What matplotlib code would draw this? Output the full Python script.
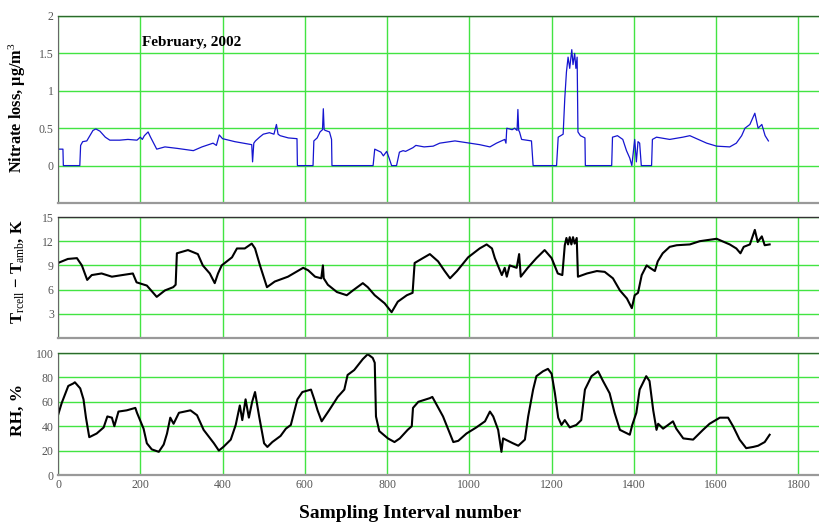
import matplotlib
matplotlib.use("Agg")
import matplotlib.pyplot as plt

# ---------------- data ----------------
nitrate_x = [0, 12, 13, 53, 55, 60, 70, 85, 92, 102, 115, 126, 150, 170, 192, 200, 205, 210, 219, 225,
             240, 260, 290, 329, 350, 377, 385, 392, 400, 430, 471, 473, 476, 480, 490, 499, 514, 525, 531, 535,
             540, 560, 581, 582, 620, 622, 630, 637, 643, 645, 647, 650, 660, 665, 666, 766, 770, 785, 791, 799,
             805, 811, 823, 825, 830, 839, 845, 863, 870, 890, 912, 928, 965, 1001, 1025, 1050, 1066, 1086, 1089, 1091,
             1104, 1110, 1116, 1118, 1120, 1122, 1127, 1151, 1155, 1212, 1216, 1228, 1232, 1236, 1240, 1244, 1249, 1252, 1256, 1259,
             1262, 1264, 1270, 1281, 1282, 1346, 1348, 1360, 1373, 1382, 1390, 1395, 1402, 1406, 1410, 1414, 1418, 1443, 1445, 1455,
             1487, 1519, 1536, 1577, 1601, 1633, 1649, 1662, 1670, 1682, 1694, 1702, 1711, 1719, 1727]
nitrate_y = [0.22, 0.22, 0, 0, 0.27, 0.32, 0.33, 0.47, 0.49, 0.46, 0.38, 0.34, 0.34, 0.35, 0.34, 0.38, 0.35, 0.40, 0.45, 0.38,
             0.22, 0.25, 0.23, 0.20, 0.25, 0.30, 0.27, 0.41, 0.36, 0.32, 0.28, 0.05, 0.30, 0.33, 0.38, 0.42, 0.44, 0.42, 0.55, 0.42,
             0.40, 0.37, 0.36, 0, 0, 0.33, 0.37, 0.45, 0.48, 0.76, 0.48, 0.47, 0.45, 0.35, 0, 0, 0.22, 0.18, 0.13, 0.19,
             0.10, 0, 0, 0.05, 0.18, 0.20, 0.19, 0.24, 0.27, 0.25, 0.26, 0.30, 0.33, 0.30, 0.28, 0.25, 0.30, 0.35, 0.30, 0.50,
             0.48, 0.50, 0.47, 0.75, 0.47, 0.45, 0.35, 0.33, 0, 0, 0.38, 0.42, 0.90, 1.25, 1.45, 1.30, 1.55, 1.35, 1.50, 1.30,
             1.45, 0.45, 0.40, 0.37, 0, 0, 0.38, 0.40, 0.35, 0.20, 0.10, 0, 0.35, 0.05, 0.32, 0.30, 0, 0, 0.35, 0.38,
             0.35, 0.38, 0.40, 0.30, 0.26, 0.25, 0.30, 0.40, 0.50, 0.55, 0.70, 0.50, 0.55, 0.40, 0.33]

dtemp_x = [0, 24, 46, 58, 71, 82, 106, 131, 156, 182, 191, 216, 240, 260, 280, 286, 289, 316, 340, 352,
           369, 381, 389, 398, 423, 435, 454, 471, 479, 491, 508, 527, 559, 596, 608, 625, 640, 644, 646, 656,
           678, 702, 717, 741, 753, 770, 794, 811, 826, 848, 862, 867, 887, 904, 924, 940, 953, 970, 997, 1025,
           1042, 1055, 1062, 1079, 1086, 1091, 1098, 1115, 1121, 1125, 1142, 1163, 1183, 1200, 1215, 1226, 1232, 1236, 1240, 1244,
           1248, 1252, 1256, 1261, 1264, 1286, 1310, 1329, 1349, 1366, 1383, 1395, 1402, 1410, 1419, 1431, 1439, 1451, 1458, 1470,
           1487, 1504, 1536, 1560, 1601, 1633, 1649, 1659, 1667, 1682, 1694, 1701, 1711, 1718, 1730]
dtemp_y = [9.3, 9.8, 9.9, 9.0, 7.2, 7.8, 8.0, 7.6, 7.8, 8.0, 6.9, 6.5, 5.1, 5.9, 6.3, 6.6, 10.5, 10.9, 10.4, 9.0,
           8.0, 6.8, 8.0, 9.0, 10.0, 11.1, 11.1, 11.7, 11.1, 9.0, 6.3, 7.0, 7.6, 8.7, 8.4, 7.6, 7.4, 9.0, 7.4, 6.6,
           5.7, 5.3, 5.9, 6.8, 6.3, 5.3, 4.3, 3.2, 4.5, 5.3, 5.6, 9.3, 9.9, 10.4, 9.5, 8.3, 7.4, 8.3, 10.0, 11.1,
           11.6, 11.1, 9.9, 7.8, 8.7, 7.6, 9.0, 8.7, 10.4, 7.6, 8.7, 9.9, 10.9, 9.9, 8.0, 7.8, 11.5, 12.4, 11.6, 12.5,
           11.6, 12.5, 11.7, 12.4, 7.6, 8.0, 8.3, 8.2, 7.4, 5.9, 4.9, 3.7, 5.3, 5.6, 7.8, 9.0, 8.7, 8.3, 9.5, 10.5,
           11.3, 11.5, 11.6, 12.0, 12.3, 11.6, 11.1, 10.5, 11.3, 11.6, 13.4, 11.9, 12.6, 11.5, 11.6]

rh_x = [0, 9, 17, 25, 37, 41, 54, 62, 68, 76, 94, 111, 120, 131, 137, 147, 167, 188, 192, 208,
        216, 228, 245, 257, 265, 273, 281, 294, 322, 338, 354, 379, 391, 402, 420, 432, 442, 448, 456, 464,
        472, 479, 489, 501, 509, 521, 541, 554, 566, 582, 594, 615, 623, 631, 641, 659, 680, 696, 704, 720,
        741, 753, 765, 770, 773, 781, 802, 818, 831, 850, 860, 863, 876, 904, 910, 936, 961, 973, 993, 1017,
        1038, 1050, 1058, 1070, 1078, 1082, 1106, 1119, 1135, 1143, 1155, 1163, 1179, 1191, 1200, 1208, 1216, 1224, 1232, 1244,
        1260, 1272, 1281, 1297, 1313, 1325, 1341, 1353, 1366, 1390, 1396, 1406, 1414, 1430, 1438, 1447, 1455, 1459, 1471, 1495,
        1503, 1520, 1544, 1568, 1584, 1609, 1629, 1641, 1657, 1673, 1690, 1702, 1718, 1730]
rh_y = [49, 59, 66, 73, 75, 76, 71, 62, 47, 31, 34, 39, 48, 47, 40, 52, 53, 55, 51, 38,
        26, 21, 19, 25, 34, 47, 42, 51, 53, 49, 37, 26, 20, 23, 29, 41, 57, 45, 62, 47,
        60, 68, 48, 26, 23, 27, 32, 38, 41, 62, 68, 70, 62, 53, 44, 53, 64, 70, 82, 86,
        95, 99, 96, 92, 48, 36, 30, 27, 30, 37, 40, 55, 60, 63, 64, 48, 27, 28, 34, 39,
        44, 52, 48, 37, 19, 30, 26, 24, 29, 48, 70, 81, 85, 87, 83, 67, 47, 41, 45, 39,
        41, 45, 70, 81, 85, 77, 67, 51, 37, 33, 41, 51, 70, 81, 77, 53, 37, 42, 38, 44,
        38, 30, 29, 37, 42, 47, 47, 40, 29, 22, 23, 24, 27, 33]

x_ticks = [0, 200, 400, 600, 800, 1000, 1200, 1400, 1600, 1800]
nitrate_ticks = [0, 0.5, 1, 1.5, 2]
nitrate_ticklabels = ["0", "0.5", "1", "1.5", "2"]
dtemp_ticks = [3, 6, 9, 12, 15]
rh_ticks = [0, 20, 40, 60, 80, 100]

# ---------------- style ----------------
plt.rcParams["font.family"] = ["Liberation Serif", "DejaVu Serif"]
plt.rcParams["mathtext.fontset"] = "custom"
plt.rcParams["mathtext.rm"] = "Liberation Serif"
plt.rcParams["mathtext.bf"] = "Liberation Serif:bold"
plt.rcParams["mathtext.it"] = "Liberation Serif:italic"

GRID = "#42e442"
TICKC = "#555555"

fig = plt.figure(figsize=(8.19, 5.26), dpi=100)
L, W = 58 / 819, 761 / 819
ax1 = fig.add_axes([L, (526 - 203) / 526, W, 187 / 526])
ax2 = fig.add_axes([L, (526 - 338) / 526, W, 121 / 526])
ax3 = fig.add_axes([L, (526 - 475) / 526, W, 122 / 526])

def style(ax, show_x):
    ax.set_xlim(0, 1850)
    ax.set_xticks(x_ticks)
    ax.grid(True, color=GRID, linewidth=1.0)
    ax.set_axisbelow(True)
    ax.tick_params(length=0, labelsize=8.5, labelcolor=TICKC, pad=3)
    if not show_x:
        ax.tick_params(labelbottom=False)
    ax.spines["right"].set_visible(False)
    ax.spines["left"].set_color("#666666")
    ax.spines["bottom"].set_color("#999999")
    ax.spines["bottom"].set_linewidth(1.6)
    ax.spines["top"].set_color("#333333")
    ax.spines["top"].set_linewidth(1.0)

ax1.plot(nitrate_x, nitrate_y, color="#1515d0", linewidth=0.9)
ax1.set_ylim(-0.5, 2)
ax1.set_yticks(nitrate_ticks)
ax1.set_yticklabels(nitrate_ticklabels)
style(ax1, False)
ax1.spines["top"].set_color("#2b6a2b")
ax1.text(204, 1.64, "February, 2002", fontsize=11, fontweight="bold", va="center", ha="left")

ax2.plot(dtemp_x, dtemp_y, color="black", linewidth=1.5)
ax2.set_ylim(0, 15)
ax2.set_yticks(dtemp_ticks)
style(ax2, False)

ax3.plot(rh_x, rh_y, color="black", linewidth=1.5)
ax3.set_ylim(0, 100)
ax3.set_yticks(rh_ticks)
style(ax3, True)
ax3.spines["top"].set_color("#2b6a2b")

fig.text(0.021, 0.795, "Nitrate loss, \u03bcg/m$^3$", rotation=90, fontsize=11.8,
         fontweight="bold", ha="center", va="center")
fig.text(0.022, 0.483, r"$\mathbf{T}_{\mathrm{rcell}}$ $\mathbf{-}$ $\mathbf{T}_{\mathrm{amb}}$, K",
         rotation=90, fontsize=12, fontweight="bold", ha="center", va="center")
fig.text(0.022, 0.22, "RH, %", rotation=90, fontsize=12.5, fontweight="bold", ha="center", va="center")
fig.text(410 / 819, 1 - 513 / 526, "Sampling Interval number", fontsize=14, fontweight="bold",
         ha="center", va="center")

fig.savefig("out.png", dpi=100)
